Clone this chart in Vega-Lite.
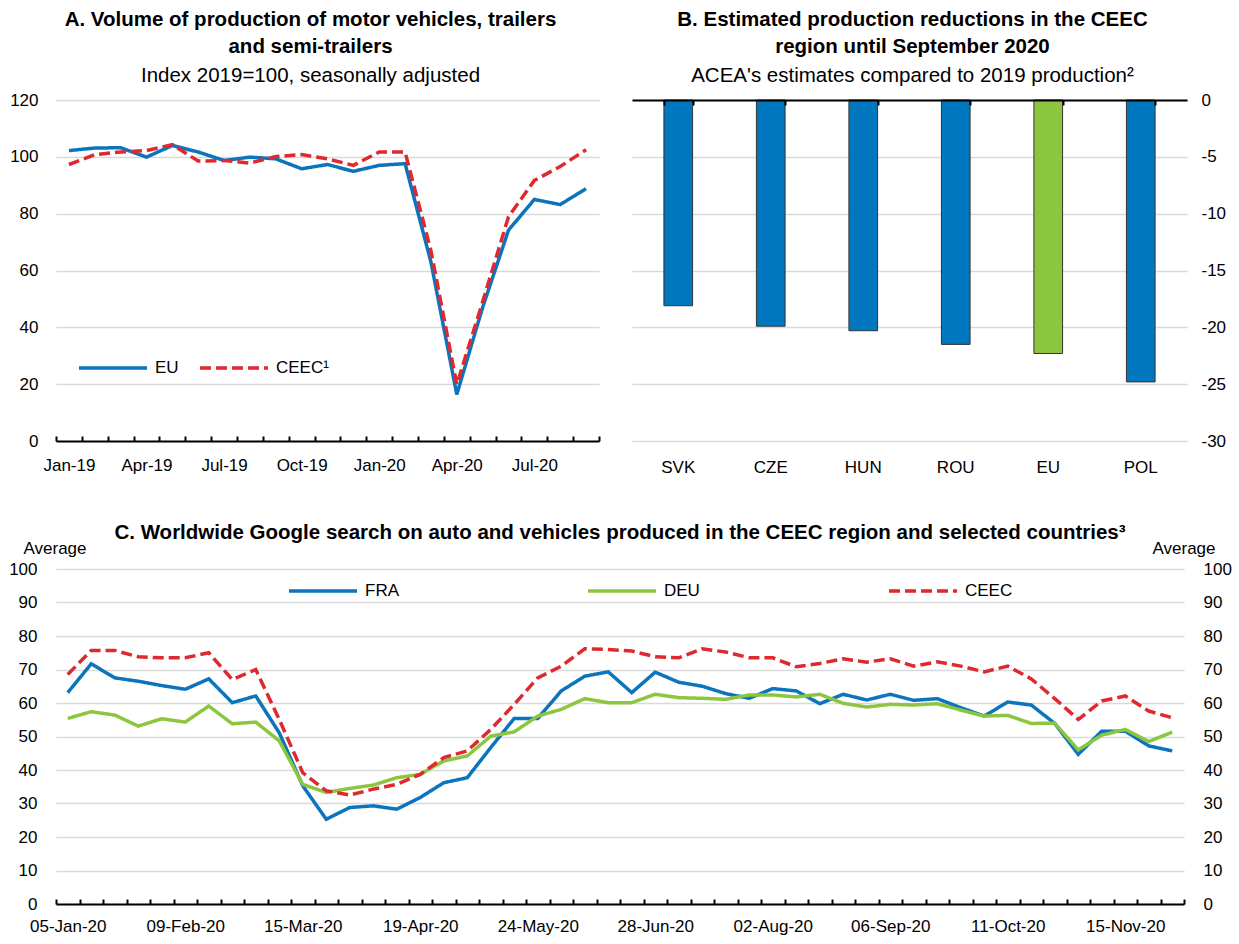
{
  "$schema": "https://vega.github.io/schema/vega-lite/v6.json",
  "autosize": "none",
  "padding": {"left": 56, "top": 100, "right": 1183, "bottom": 844},
  "background": "white",
  "config": {
    "font": "Liberation Sans",
    "view": {"stroke": null},
    "axis": {
      "labelFont": "Liberation Sans",
      "labelFontSize": 17,
      "labelColor": "#000000",
      "titleFont": "Liberation Sans",
      "titleFontSize": 17,
      "titleFontWeight": "normal",
      "titleColor": "#000000",
      "grid": false,
      "gridColor": "#d9d9d9",
      "gridWidth": 1.5,
      "domainColor": "#000000",
      "domainWidth": 2,
      "tickColor": "#000000",
      "tickWidth": 2
    },
    "title": {
      "font": "Liberation Sans",
      "fontSize": 20.5,
      "fontWeight": "bold",
      "color": "#000000",
      "lineHeight": 27,
      "subtitleFont": "Liberation Sans",
      "subtitleFontSize": 20.5,
      "subtitleFontWeight": "normal",
      "subtitleColor": "#000000",
      "subtitleLineHeight": 27,
      "subtitlePadding": 8,
      "anchor": "middle"
    },
    "legend": {
      "labelFont": "Liberation Sans",
      "labelFontSize": 17,
      "labelColor": "#000000",
      "symbolType": "stroke",
      "symbolSize": 4624,
      "symbolStrokeWidth": 3.5,
      "labelOffset": 6,
      "title": null
    }
  },
  "datasets": {
    "prod": [
      {"month": "Jan-19", "EU": 102.2, "CEEC¹": 97.3},
      {"month": "Feb-19", "EU": 103.1, "CEEC¹": 100.8},
      {"month": "Mar-19", "EU": 103.2, "CEEC¹": 101.7},
      {"month": "Apr-19", "EU": 99.9, "CEEC¹": 102.2},
      {"month": "May-19", "EU": 104.0, "CEEC¹": 104.3},
      {"month": "Jun-19", "EU": 101.7, "CEEC¹": 98.5},
      {"month": "Jul-19", "EU": 98.7, "CEEC¹": 98.7},
      {"month": "Aug-19", "EU": 99.9, "CEEC¹": 97.8},
      {"month": "Sep-19", "EU": 99.3, "CEEC¹": 100.1},
      {"month": "Oct-19", "EU": 95.8, "CEEC¹": 100.8},
      {"month": "Nov-19", "EU": 97.3, "CEEC¹": 99.3},
      {"month": "Dec-19", "EU": 94.9, "CEEC¹": 97.0},
      {"month": "Jan-20", "EU": 97.0, "CEEC¹": 101.7},
      {"month": "Feb-20", "EU": 97.6, "CEEC¹": 101.7},
      {"month": "Mar-20", "EU": 63.0, "CEEC¹": 67.0},
      {"month": "Apr-20", "EU": 16.4, "CEEC¹": 19.9},
      {"month": "May-20", "EU": 47.0, "CEEC¹": 49.0},
      {"month": "Jun-20", "EU": 74.2, "CEEC¹": 78.9},
      {"month": "Jul-20", "EU": 85.0, "CEEC¹": 91.7},
      {"month": "Aug-20", "EU": 83.2, "CEEC¹": 96.6},
      {"month": "Sep-20", "EU": 88.8, "CEEC¹": 102.5}
    ],
    "bars": [
      {"country": "SVK", "group": "country", "value": -18.1},
      {"country": "CZE", "group": "country", "value": -19.9},
      {"country": "HUN", "group": "country", "value": -20.3},
      {"country": "ROU", "group": "country", "value": -21.5},
      {"country": "EU", "group": "EU", "value": -22.3},
      {"country": "POL", "group": "country", "value": -24.8}
    ],
    "search": [
      {"week": "05-Jan-20", "FRA": 63.1, "DEU": 55.4, "CEEC": 68.5},
      {"week": "12-Jan-20", "FRA": 71.7, "DEU": 57.4, "CEEC": 75.7},
      {"week": "19-Jan-20", "FRA": 67.5, "DEU": 56.4, "CEEC": 75.7},
      {"week": "26-Jan-20", "FRA": 66.5, "DEU": 53.1, "CEEC": 73.8},
      {"week": "02-Feb-20", "FRA": 65.2, "DEU": 55.3, "CEEC": 73.5},
      {"week": "09-Feb-20", "FRA": 64.1, "DEU": 54.3, "CEEC": 73.5},
      {"week": "16-Feb-20", "FRA": 67.2, "DEU": 59.1, "CEEC": 75.0},
      {"week": "23-Feb-20", "FRA": 60.1, "DEU": 53.8, "CEEC": 67.0},
      {"week": "01-Mar-20", "FRA": 62.1, "DEU": 54.3, "CEEC": 70.0},
      {"week": "08-Mar-20", "FRA": 51.1, "DEU": 48.7, "CEEC": 55.1},
      {"week": "15-Mar-20", "FRA": 35.3, "DEU": 35.7, "CEEC": 39.2},
      {"week": "22-Mar-20", "FRA": 25.3, "DEU": 33.3, "CEEC": 33.8},
      {"week": "29-Mar-20", "FRA": 28.8, "DEU": 34.5, "CEEC": 32.5},
      {"week": "05-Apr-20", "FRA": 29.3, "DEU": 35.5, "CEEC": 34.3},
      {"week": "12-Apr-20", "FRA": 28.3, "DEU": 37.7, "CEEC": 35.7},
      {"week": "19-Apr-20", "FRA": 31.8, "DEU": 38.7, "CEEC": 38.7},
      {"week": "26-Apr-20", "FRA": 36.2, "DEU": 42.7, "CEEC": 43.7},
      {"week": "03-May-20", "FRA": 37.7, "DEU": 44.2, "CEEC": 45.7},
      {"week": "10-May-20", "FRA": 46.7, "DEU": 50.1, "CEEC": 52.1},
      {"week": "17-May-20", "FRA": 55.4, "DEU": 51.4, "CEEC": 59.6},
      {"week": "24-May-20", "FRA": 55.4, "DEU": 56.1, "CEEC": 67.5},
      {"week": "31-May-20", "FRA": 63.6, "DEU": 58.1, "CEEC": 71.0},
      {"week": "07-Jun-20", "FRA": 68.0, "DEU": 61.3, "CEEC": 76.2},
      {"week": "14-Jun-20", "FRA": 69.3, "DEU": 60.1, "CEEC": 76.0},
      {"week": "21-Jun-20", "FRA": 63.1, "DEU": 60.1, "CEEC": 75.5},
      {"week": "28-Jun-20", "FRA": 69.2, "DEU": 62.6, "CEEC": 73.8},
      {"week": "05-Jul-20", "FRA": 66.2, "DEU": 61.6, "CEEC": 73.5},
      {"week": "12-Jul-20", "FRA": 65.0, "DEU": 61.4, "CEEC": 76.2},
      {"week": "19-Jul-20", "FRA": 62.8, "DEU": 61.1, "CEEC": 75.2},
      {"week": "26-Jul-20", "FRA": 61.4, "DEU": 62.4, "CEEC": 73.5},
      {"week": "02-Aug-20", "FRA": 64.3, "DEU": 62.4, "CEEC": 73.5},
      {"week": "09-Aug-20", "FRA": 63.6, "DEU": 61.8, "CEEC": 70.8},
      {"week": "16-Aug-20", "FRA": 59.8, "DEU": 62.6, "CEEC": 71.8},
      {"week": "23-Aug-20", "FRA": 62.6, "DEU": 59.9, "CEEC": 73.2},
      {"week": "30-Aug-20", "FRA": 60.9, "DEU": 58.8, "CEEC": 72.2},
      {"week": "06-Sep-20", "FRA": 62.6, "DEU": 59.6, "CEEC": 73.2},
      {"week": "13-Sep-20", "FRA": 60.8, "DEU": 59.4, "CEEC": 71.0},
      {"week": "20-Sep-20", "FRA": 61.3, "DEU": 59.8, "CEEC": 72.3},
      {"week": "27-Sep-20", "FRA": 58.6, "DEU": 57.9, "CEEC": 71.0},
      {"week": "04-Oct-20", "FRA": 56.1, "DEU": 56.1, "CEEC": 69.3},
      {"week": "11-Oct-20", "FRA": 60.3, "DEU": 56.3, "CEEC": 71.0},
      {"week": "18-Oct-20", "FRA": 59.4, "DEU": 53.9, "CEEC": 67.2},
      {"week": "25-Oct-20", "FRA": 53.9, "DEU": 54.0, "CEEC": 61.3},
      {"week": "01-Nov-20", "FRA": 44.7, "DEU": 46.0, "CEEC": 55.1},
      {"week": "08-Nov-20", "FRA": 51.6, "DEU": 50.4, "CEEC": 60.6},
      {"week": "15-Nov-20", "FRA": 51.6, "DEU": 52.1, "CEEC": 62.1},
      {"week": "22-Nov-20", "FRA": 47.2, "DEU": 48.5, "CEEC": 57.6},
      {"week": "29-Nov-20", "FRA": 45.7, "DEU": 51.3, "CEEC": 55.6}
    ]
  },
  "bounds": "flush",
  "spacing": 469,
  "resolve": {
    "scale": {"color": "independent", "strokeDash": "independent"},
    "legend": {"color": "independent", "strokeDash": "independent"}
  },
  "vconcat": [
    {
      "bounds": "flush",
      "spacing": 33,
      "resolve": {
        "scale": {"color": "independent", "strokeDash": "independent"},
        "legend": {"color": "independent", "strokeDash": "independent"}
      },
      "hconcat": [
        {
          "width": 543,
          "height": 341,
          "title": {
            "text": ["A. Volume of production of motor vehicles, trailers", "and semi-trailers"],
            "subtitle": "Index 2019=100, seasonally adjusted",
            "offset": 5,
            "dx": -17
          },
          "data": {"name": "prod"},
          "transform": [{"fold": ["EU", "CEEC¹"], "as": ["series", "value"]}],
          "mark": {"type": "line", "strokeWidth": 3.5},
          "encoding": {
            "x": {
              "field": "month", "type": "ordinal", "sort": null,
              "scale": {"type": "band", "paddingInner": 0, "paddingOuter": 0},
              "axis": {
                "title": null, "labelAngle": 0, "tickBand": "extent", "tickSize": -5,
                "labelPadding": 21,
                "labelExpr": "test(/^(Jan|Apr|Jul|Oct)/, datum.value) ? datum.value : ''"
              }
            },
            "y": {
              "field": "value", "type": "quantitative",
              "scale": {"domain": [0, 120], "nice": false},
              "axis": {"title": null, "values": [0, 20, 40, 60, 80, 100, 120], "domain": false, "ticks": false, "grid": true, "labelPadding": 18}
            },
            "color": {
              "field": "series", "type": "nominal",
              "scale": {"domain": ["EU", "CEEC¹"], "range": ["#0B74BC", "#DE2A2F"]},
              "legend": {"orient": "none", "legendX": 21, "legendY": 232, "direction": "horizontal", "columnPadding": 14}
            },
            "strokeDash": {
              "field": "series", "type": "nominal",
              "scale": {"domain": ["EU", "CEEC¹"], "range": [[1, 0], [11, 5]]},
              "legend": {"orient": "none", "legendX": 21, "legendY": 232, "direction": "horizontal", "columnPadding": 14}
            }
          }
        },
        {
          "width": 555,
          "height": 341,
          "title": {
            "text": ["B. Estimated production reductions in the CEEC", "region until September 2020"],
            "subtitle": "ACEA's estimates compared to 2019 production²",
            "offset": 5,
            "dx": 3
          },
          "data": {"name": "bars"},
          "resolve": {"axis": {"x": "independent"}},
          "layer": [
            {
              "mark": {"type": "bar", "stroke": "#333333", "strokeWidth": 1},
              "encoding": {
                "x": {
                  "field": "country", "type": "nominal", "sort": null,
                  "scale": {"type": "band", "paddingInner": 0.69, "paddingOuter": 0.345},
                  "axis": {"orient": "bottom", "title": null, "labelAngle": 0, "domain": false, "ticks": false, "labelPadding": 18}
                },
                "y": {
                  "field": "value", "type": "quantitative",
                  "scale": {"domain": [-30, 0], "nice": false},
                  "axis": {"orient": "right", "title": null, "values": [0, -5, -10, -15, -20, -25, -30], "labelExpr": "'' + datum.value", "domain": false, "ticks": false, "grid": true, "labelPadding": 14}
                },
                "color": {
                  "field": "group", "type": "nominal",
                  "scale": {"domain": ["country", "EU"], "range": ["#0077BF", "#8CC63F"]},
                  "legend": null
                }
              }
            },
            {
              "mark": {"type": "point", "opacity": 0},
              "encoding": {
                "x": {
                  "field": "country", "type": "nominal", "sort": null,
                  "axis": {"orient": "top", "title": null, "labels": false, "domain": true, "ticks": true, "tickBand": "extent", "tickSize": -5, "zindex": 2}
                }
              }
            }
          ]
        }
      ]
    },
    {
      "width": 1128,
      "height": 335,
      "title": {
        "text": "C. Worldwide Google search on auto and vehicles produced in the CEEC region and selected countries³",
        "offset": -4
      },
      "data": {"name": "search"},
      "transform": [{"fold": ["FRA", "DEU", "CEEC"], "as": ["series", "value"]}],
      "resolve": {"axis": {"y": "independent"}},
      "layer": [
        {
          "mark": {"type": "line", "strokeWidth": 3.5},
          "encoding": {
            "x": {
              "field": "week", "type": "ordinal", "sort": null,
              "scale": {"type": "band", "paddingInner": 0, "paddingOuter": 0},
              "axis": {
                "title": null, "labelAngle": 0, "tickBand": "extent", "tickSize": -5,
                "labelPadding": 19,
                "labelExpr": "indexof(['05-Jan-20','09-Feb-20','15-Mar-20','19-Apr-20','24-May-20','28-Jun-20','02-Aug-20','06-Sep-20','11-Oct-20','15-Nov-20'], datum.value) >= 0 ? datum.value : ''"
              }
            },
            "y": {
              "field": "value", "type": "quantitative",
              "scale": {"domain": [0, 100], "nice": false},
              "axis": {
                "orient": "left", "title": "Average", "titleAngle": 0, "titleAlign": "left", "titleBaseline": "alphabetic",
                "titleX": -33, "titleY": -16,
                "values": [0, 10, 20, 30, 40, 50, 60, 70, 80, 90, 100], "domain": false, "ticks": false, "grid": true, "labelPadding": 19
              }
            },
            "color": {
              "field": "series", "type": "nominal",
              "scale": {"domain": ["FRA", "DEU", "CEEC"], "range": ["#0B74BC", "#8CC63F", "#DE2A2F"]},
              "legend": {"orient": "none", "legendX": 231, "legendY": -14, "direction": "horizontal", "columnPadding": 182}
            },
            "strokeDash": {
              "field": "series", "type": "nominal",
              "scale": {"domain": ["FRA", "DEU", "CEEC"], "range": [[1, 0], [1, 0], [11, 5]]},
              "legend": {"orient": "none", "legendX": 231, "legendY": -14, "direction": "horizontal", "columnPadding": 182}
            }
          }
        },
        {
          "mark": {"type": "point", "opacity": 0},
          "encoding": {
            "x": {"field": "week", "type": "ordinal", "sort": null},
            "y": {
              "field": "value", "type": "quantitative",
              "scale": {"domain": [0, 100], "nice": false},
              "axis": {
                "orient": "right", "title": "Average", "titleAngle": 0, "titleAlign": "left", "titleBaseline": "alphabetic",
                "titleX": -32, "titleY": -16,
                "values": [0, 10, 20, 30, 40, 50, 60, 70, 80, 90, 100], "domain": false, "ticks": false, "grid": false, "labelPadding": 19
              }
            }
          }
        }
      ]
    }
  ]
}
